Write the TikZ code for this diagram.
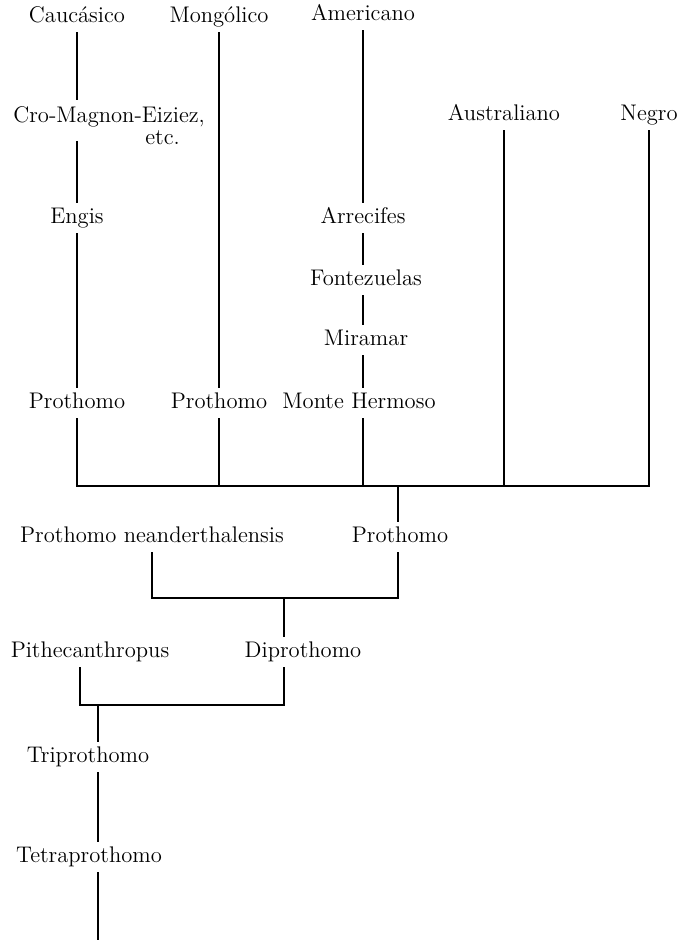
\documentclass[tikz,border=0pt]{standalone}
\usepackage{fontspec}

\begin{document}
\begin{tikzpicture}[x=0.5pt,y=-0.5pt,
    fuente/.style={font=\fontsize{11.3}{13}\selectfont, inner sep=3pt},
    etiqueta/.style={fuente, text height=1.6ex, text depth=0.4ex},
    rama/.style={line width=1.2pt, black}]

            \useasboundingbox (0,0) rectangle (683,940);

            %---------------- RAZAS ACTUALES ----------------
            \node[etiqueta] (cauc)  at (77,17)  {Caucásico};
            \node[etiqueta] (mong)  at (219,17) {Mongólico};
            \node[etiqueta] (amer)  at (363,15) {Americano};
            \node[etiqueta] (austr) at (504,115) {Australiano};
            \node[etiqueta] (negro) at (649,115) {Negro};

            %---------------- FOSILES ----------------
            \node[fuente, align=left, anchor=north west] (cro) at (7,100)
                {Cro-Magnon-Eiziez,\\[-2pt]\hspace*{66pt}etc.};
            \node[etiqueta] (engis) at (77,218)  {Engis};
            \node[etiqueta] (arre)  at (363,218) {Arrecifes};
            \node[etiqueta] (fonte) at (366,280) {Fontezuelas};
            \node[etiqueta] (mira)  at (366,340) {Miramar};
            \node[etiqueta] (protA) at (77,403)  {Prothomo};
            \node[etiqueta] (protB) at (219,403) {Prothomo};
            \node[etiqueta] (monte) at (359,403) {Monte Hermoso};

            %---------------- ANTECESORES ----------------
            \node[etiqueta] (protC)  at (400,537) {Prothomo};
            \node[etiqueta] (neand)  at (152,537) {Prothomo neanderthalensis};
            \node[etiqueta] (pithe)  at (90,652)  {Pithecanthropus};
            \node[etiqueta] (dipro)  at (303,652) {Diprothomo};
            \node[etiqueta] (tripro) at (88,757)  {Triprothomo};
            \node[etiqueta] (tetra)  at (89,857)  {Tetraprothomo};

            % puntos de union
            \coordinate (barraA) at (77,486);
            \coordinate (barraM) at (398,486);
            \coordinate (barraN) at (284,598);
            \coordinate (pithL)  at (80,705);
            \coordinate (dipR)   at (284,705);
            \coordinate (barraQ) at (98,705);
            \coordinate (raiz)   at (98,940);

            %---------------- COLUMNA CAUCASICA ----------------
            \draw[rama] (cauc.south) -- (cauc.south |- cro.north);
            \draw[rama] ([yshift=5pt]cro.south -| cauc.south) -- (engis.north);
            \draw[rama] (engis.south) -- (protA.north);

            %---------------- COLUMNA MONGOLICA ----------------
            \draw[rama] (mong.south) -- (protB.north);

            %---------------- COLUMNA AMERICANA ----------------
            \draw[rama] (amer.south) -- (arre.north);
            \draw[rama] (arre.south) -- (amer.south |- fonte.north);
            \draw[rama] (amer.south |- fonte.south) -- (amer.south |- mira.north);
            \draw[rama] (amer.south |- mira.south) -- (amer.south |- monte.north);

            %---------------- BARRA SUPERIOR ----------------
            \draw[rama] (protA.south) -- (barraA) -| (negro.south);
            \draw[rama] (protB.south) -- (protB.south |- barraA);
            \draw[rama] (amer.south |- monte.south) -- (amer.south |- barraA);
            \draw[rama] (austr.south) -- (austr.south |- barraA);
            \draw[rama] (barraM) -- (protC.north -| barraM);

            %---------------- RAMAS INFERIORES ----------------
            \draw[rama] (neand.south) -- (neand.south |- barraN) -| (protC.south -| barraM);
            \draw[rama] (barraN) -- (dipro.north -| barraN);

            \draw[rama] (pithe.south -| pithL) -- (pithL) -- (dipR) -- (dipro.south -| dipR);
            \draw[rama] (barraQ) -- (tripro.north -| barraQ);
            \draw[rama] (tripro.south -| barraQ) -- (tetra.north -| barraQ);
            \draw[rama] (tetra.south -| raiz) -- (raiz);

\end{tikzpicture}
\end{document}
